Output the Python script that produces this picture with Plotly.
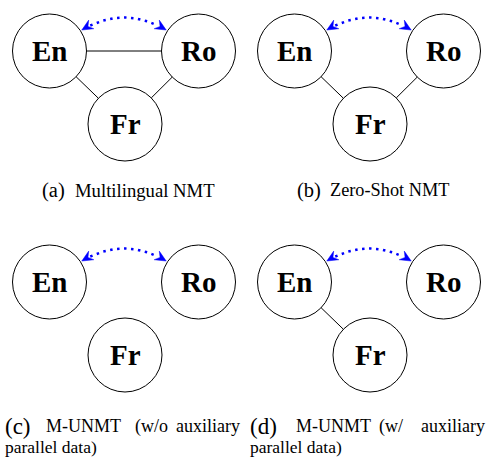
import numpy as np
import plotly.graph_objects as go

W, H = 491, 461

# ---- data ----
node_names = ["En", "Ro", "Fr"]
node_dx = [49.5, 198.5, 125.0]      # node centre within a panel
node_dy = [51.0, 51.0, 124.0]
panel_ids = ["a", "b", "c", "d"]
panel_x0 = [0, 245, 0, 245]
panel_y0 = [0, 0, 231, 231]
panel_edges = [
    [("En", "Ro"), ("En", "Fr"), ("Ro", "Fr")],
    [("En", "Fr"), ("Ro", "Fr")],
    [],
    [("En", "Fr")],
]
caption_tags = ["(a)", "(b)", "(c)", "(d)"]
caption_line1 = [["Multilingual NMT"], ["Zero-Shot NMT"],
                 ["M-UNMT", "(w/o", "auxiliary"], ["M-UNMT", "(w/", "auxiliary"]]
caption_line2 = ["", "", "parallel data)", "parallel data)"]

# ---- layout constants ----
R = 37.0
FONT = "Liberation Serif"
BLUE = "#0000ff"
cap_y1 = [190, 190, 426, 426]
cap_y2 = [0, 0, 447, 447]
cap_tag_x = [40, 295, 3, 248]
cap_tag_size = [20.5, 20.5, 23, 23]
cap_word_x = [[73], [328], [44, 133, 242], [294, 377, 487]]  # last of justified rows = right edge
cap_size = [18.7, 18.3, 18, 18]

fig = go.Figure()
shapes = []
annotations = []


def centre(p, name):
    i = node_names.index(name)
    return panel_x0[p] + node_dx[i], panel_y0[p] + node_dy[i]


def bezier(p0, p1, p2, t):
    t = np.asarray(t)[:, None]
    return (1 - t) ** 2 * p0 + 2 * (1 - t) * t * p1 + t ** 2 * p2


def head(tip, direction, L=11.0, w=5.0):
    d = direction / np.linalg.norm(direction)
    n = np.array([-d[1], d[0]])
    base = tip - L * d
    notch = tip - 0.65 * L * d
    pts = [tip, base + w * n, notch, base - w * n, tip]
    return [q[0] for q in pts], [q[1] for q in pts]


for p in range(4):
    # circles
    for name in node_names:
        cx, cy = centre(p, name)
        shapes.append(dict(type="circle", xref="x", yref="y",
                           x0=cx - R, x1=cx + R, y0=cy - R, y1=cy + R,
                           line=dict(color="black", width=1), layer="above"))
        annotations.append(dict(x=cx, y=cy, xref="x", yref="y", text="<b>%s</b>" % name,
                                showarrow=False, font=dict(family=FONT, size=29, color="black"),
                                xanchor="center", yanchor="middle"))
    # edges
    for a, b in panel_edges[p]:
        ax, ay = centre(p, a)
        bx, by = centre(p, b)
        v = np.array([bx - ax, by - ay])
        u = v / np.linalg.norm(v)
        s = np.array([ax, ay]) + R * u
        e = np.array([bx, by]) - R * u
        fig.add_trace(go.Scatter(x=[s[0], e[0]], y=[s[1], e[1]], mode="lines",
                                 line=dict(color="black", width=1), hoverinfo="skip",
                                 showlegend=False))
    # dotted double arrow En <-> Ro
    ex, ey = centre(p, "En")
    rx, ry = centre(p, "Ro")
    ang = np.deg2rad(33)
    Rt = R + 1.5
    p0 = np.array([ex + Rt * np.cos(ang), ey - Rt * np.sin(ang)])
    p2 = np.array([rx - Rt * np.cos(ang), ry - Rt * np.sin(ang)])
    p1 = np.array([(p0[0] + p2[0]) / 2, p0[1] - 25])
    pts = bezier(p0, p1, p2, np.linspace(0.1, 0.9, 60))
    fig.add_trace(go.Scatter(x=pts[:, 0], y=pts[:, 1], mode="lines",
                             line=dict(color=BLUE, width=2.5, dash="2.5px,4.5px"),
                             hoverinfo="skip", showlegend=False))
    for tip, ctrl in ((p0, p1), (p2, p1)):
        hx, hy = head(tip, tip - ctrl)
        fig.add_trace(go.Scatter(x=hx, y=hy, mode="lines", fill="toself",
                                 fillcolor=BLUE, line=dict(color=BLUE, width=0.5),
                                 hoverinfo="skip", showlegend=False))
    # captions
    annotations.append(dict(x=cap_tag_x[p], y=cap_y1[p], xref="x", yref="y",
                            text=caption_tags[p], showarrow=False,
                            font=dict(family=FONT, size=cap_tag_size[p], color="black"),
                            xanchor="left", yanchor="middle"))
    words = caption_line1[p]
    for k, wd in enumerate(words):
        last = (len(words) > 1 and k == len(words) - 1)
        annotations.append(dict(x=cap_word_x[p][k], y=cap_y1[p], xref="x", yref="y",
                                text=wd, showarrow=False,
                                font=dict(family=FONT, size=cap_size[p], color="black"),
                                xanchor="right" if last else "left", yanchor="middle"))
    if caption_line2[p]:
        annotations.append(dict(x=cap_tag_x[p], y=cap_y2[p], xref="x", yref="y",
                                text=caption_line2[p], showarrow=False,
                                font=dict(family=FONT, size=17.5, color="black"),
                                xanchor="left", yanchor="middle"))

fig.update_layout(
    width=W, height=H, margin=dict(l=0, r=0, t=0, b=0),
    paper_bgcolor="white", plot_bgcolor="white",
    xaxis=dict(range=[0, W], visible=False, fixedrange=True),
    yaxis=dict(range=[H, 0], visible=False, fixedrange=True),
    shapes=shapes, annotations=annotations, showlegend=False,
)
fig.write_html("out.html", config={"displayModeBar": False},
               post_script="document.body.style.margin='0';document.body.style.overflow='hidden';")
